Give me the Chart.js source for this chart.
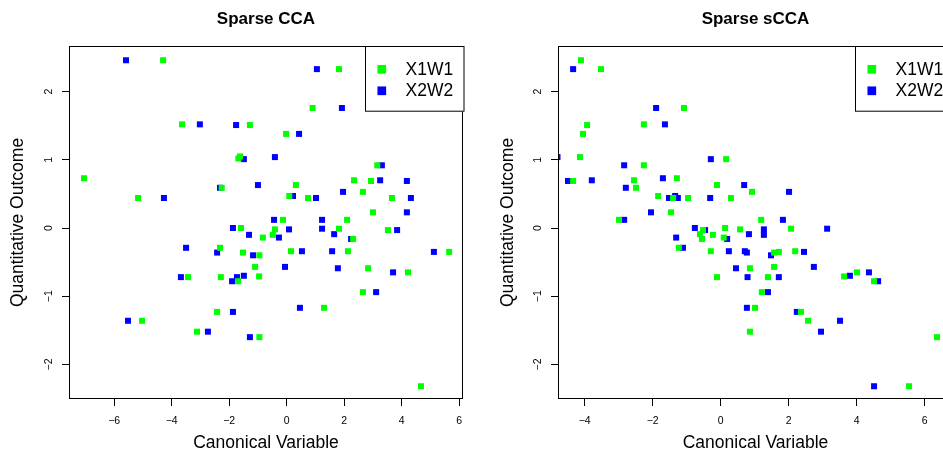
<!DOCTYPE html>
<html>
<head>
<meta charset="utf-8">
<script src="https://cdn.jsdelivr.net/npm/chart.js"></script>
<style>
html,body{margin:0;padding:0;background:#fff;overflow:hidden;width:943px;height:455px}
#wrap{position:relative;width:943px;height:455px;overflow:hidden;background:#fff}
canvas{position:absolute;top:0}
</style>
</head>
<body>
<div id="wrap">
<canvas id="c1" width="490" height="455" style="left:0"></canvas>
<canvas id="c2" width="490" height="455" style="left:490px"></canvas>
</div>
<script>
// ---------- data ----------
const titles = ['Sparse CCA', 'Sparse sCCA'];
const seriesNames = ['X1W1', 'X2W2'];
const xAxisLabel = 'Canonical Variable';
const yAxisLabel = 'Quantitative Outcome';

const ccaXTicks = [-6, -4, -2, 0, 2, 4, 6];
const ccaXTickLabels = ['\u22126', '\u22124', '\u22122', '0', '2', '4', '6'];
const sccaXTicks = [-4, -2, 0, 2, 4, 6];
const sccaXTickLabels = ['\u22124', '\u22122', '0', '2', '4', '6'];
const yTicks = [-2, -1, 0, 1, 2];
const yTickLabels = ['\u22122', '\u22121', '0', '1', '2'];

// Sparse CCA – X1W1 (green)
const ccaX1W1x = [-7.05,-4.30,-3.64,-1.28,-1.62,-1.68,-2.26,-5.17,-1.59,1.82,0.90,-0.02,3.15,0.32,2.34,2.93,0.09,0.74,2.65,3.66,3.00,-0.13,2.10,-0.41,1.82,3.52,-0.83,-0.48,2.31,-0.95,0.15,2.13,5.65,2.83,4.22,-0.96,2.65,1.30,-0.95,4.67,-2.32,-1.52,-1.10,-3.43,-2.29,-1.69,-2.42,-5.03,-3.12];
const ccaX1W1y = [0.73,2.46,1.52,1.51,1.05,1.02,0.59,0.44,0.00,2.33,1.76,1.38,0.92,0.63,0.70,0.69,0.47,0.44,0.53,0.44,0.23,0.12,0.12,-0.02,-0.01,-0.03,-0.14,-0.10,-0.16,-0.40,-0.34,-0.34,-0.35,-0.59,-0.65,-0.71,-0.94,-1.17,-1.60,-2.32,-0.29,-0.36,-0.57,-0.72,-0.72,-0.78,-1.23,-1.36,-1.52];
// Sparse CCA – X2W2 (blue)
const ccaX2W2x = [-5.59,-3.02,-1.76,-1.49,-2.32,-1.00,-4.27,-1.87,1.05,1.92,0.43,-0.41,3.31,3.25,4.18,0.22,1.02,1.96,4.32,4.18,-0.44,1.23,0.08,1.23,3.84,-0.27,1.65,2.24,0.53,1.58,5.12,-0.06,1.78,3.70,3.11,0.46,-1.31,-3.50,-2.42,-1.17,-3.68,-1.73,-1.90,-1.49,-1.87,-5.52,-2.74,-1.28];
const ccaX2W2y = [2.46,1.52,1.51,1.01,0.59,0.63,0.44,0.00,2.33,1.76,1.38,1.04,0.92,0.70,0.69,0.47,0.44,0.53,0.44,0.23,0.12,0.12,-0.02,-0.01,-0.03,-0.14,-0.09,-0.16,-0.34,-0.34,-0.35,-0.57,-0.59,-0.65,-0.94,-1.17,-0.10,-0.29,-0.36,-0.40,-0.72,-0.72,-0.78,-0.70,-1.23,-1.36,-1.52,-1.60];

// Sparse sCCA – X1W1 (green)
const sccaX1W1x = [-4.11,-3.52,-1.08,-3.93,-2.26,-4.05,-4.14,0.16,-2.26,-4.34,-2.55,-1.29,-2.49,-0.11,-1.84,-1.40,-0.96,0.30,0.92,-1.46,-2.99,1.19,-0.52,0.13,0.57,2.07,-0.61,-0.55,-0.23,0.09,-1.23,-0.29,0.86,-0.11,0.86,1.57,1.71,2.19,1.57,1.39,3.63,4.01,4.51,1.21,1.01,2.36,2.57,6.36,5.54];
const sccaX1W1y = [2.46,2.33,1.76,1.51,1.52,1.38,1.04,1.01,0.92,0.69,0.70,0.73,0.59,0.63,0.47,0.44,0.44,0.44,0.53,0.23,0.12,0.12,-0.03,0.00,-0.02,-0.01,-0.09,-0.16,-0.10,-0.14,-0.29,-0.34,-0.59,-0.72,-1.52,-0.36,-0.35,-0.34,-0.57,-0.72,-0.71,-0.65,-0.78,-0.94,-1.17,-1.23,-1.36,-1.60,-2.32];
// Sparse sCCA – X2W2 (blue)
const sccaX2W2x = [-4.34,-1.90,-1.64,-4.80,-0.29,-2.84,-4.49,-3.79,-1.70,-2.79,0.69,-1.52,-1.34,-1.26,-0.31,2.01,-2.05,-2.84,1.83,-0.76,-0.46,1.27,3.13,0.83,-1.31,0.19,-1.11,0.24,0.71,0.77,0.45,0.79,0.77,1.48,2.45,2.74,1.71,3.80,4.36,4.63,1.39,2.24,3.51,2.95,4.51,1.27];
const sccaX2W2y = [2.33,1.76,1.52,1.04,1.01,0.92,0.69,0.70,0.73,0.59,0.63,0.44,0.47,0.44,0.44,0.53,0.23,0.12,0.12,0.00,-0.03,-0.02,-0.01,-0.09,-0.14,-0.16,-0.29,-0.34,-0.34,-0.36,-0.59,-0.72,-1.17,-0.40,-0.35,-0.57,-0.72,-0.70,-0.65,-0.78,-0.94,-1.23,-1.36,-1.52,-2.32,-0.10];

const seriesColors = ['#00FF00', '#0000FF'];

// ---------- chart building ----------
const FONT = 'Liberation Sans';
const LABEL_SIZE = 17.5;
const TICK_SIZE = 10.5;
function pts(xs, ys) { return xs.map((x, i) => ({ x: x, y: ys[i] })); }

const framePlugin = {
  id: 'rframe',
  afterDraw(chart) {
    const ctx = chart.ctx, a = chart.chartArea, ys = chart.scales.y;
    ctx.save();
    ctx.strokeStyle = '#000';
    ctx.lineWidth = 1;
    ctx.strokeRect(a.left + 0.5, a.top + 0.5, a.right - a.left - 1, a.bottom - a.top - 1);
    // rotated y tick labels (R style, parallel to the axis)
    ctx.fillStyle = '#000';
    ctx.font = TICK_SIZE + 'px "' + FONT + '"';
    ctx.textAlign = 'center';
    ctx.textBaseline = 'middle';
    yTicks.forEach((v, i) => {
      const py = ys.getPixelForValue(v);
      ctx.save();
      ctx.translate(a.left - 19.7, py);
      ctx.rotate(-Math.PI / 2);
      ctx.fillText(yTickLabels[i], 0, 0);
      ctx.restore();
    });
    // legend box (top right, inside plot)
    const lw = 98.5, lh = 65.7;
    const lx = Math.round(a.right - lw), ly = a.top;
    ctx.fillStyle = '#fff';
    ctx.fillRect(lx, ly, lw, lh);
    ctx.strokeRect(lx + 0.5, ly + 0.5, lw, lh - 1);
    chart.data.datasets.forEach((ds, i) => {
      const cy = ly + 23.3 + i * 21.5;
      ctx.fillStyle = ds.backgroundColor;
      ctx.fillRect(lx + 16.8 - 4.35, cy - 4.35, 8.7, 8.7);
      ctx.fillStyle = '#000';
      ctx.font = LABEL_SIZE + 'px "' + FONT + '"';
      ctx.textAlign = 'left';
      ctx.textBaseline = 'middle';
      ctx.fillText(ds.label, lx + 40.5, cy + 0.6);
    });
    ctx.restore();
  }
};

function makeChart(id, title, gx, gy, bx, by, xMin, xMax, xTicks, xTickLabels, areaLeft) {
  const ds = (label, data, color) => ({
    label: label, data: data,
    backgroundColor: color, borderColor: color,
    pointStyle: 'rect', pointRadius: 4.25, pointHoverRadius: 4.25,
    pointBorderWidth: 0, clip: 0
  });
  return new Chart(document.getElementById(id), {
    type: 'scatter',
    data: {
      datasets: [
        ds(seriesNames[0], pts(gx, gy), seriesColors[0]),
        ds(seriesNames[1], pts(bx, by), seriesColors[1])
      ]
    },
    options: {
      responsive: false,
      animation: false,
      events: [],
      layout: { autoPadding: false, padding: { left: 0, top: 0, right: 27, bottom: 0 } },
      plugins: {
        legend: { display: false },
        tooltip: { enabled: false },
        title: {
          display: true, text: title, fullSize: false, color: '#000',
          font: { family: FONT, size: 17, weight: 'bold' },
          padding: { top: 9.3, bottom: 16.3 }
        }
      },
      scales: {
        x: {
          type: 'linear', min: xMin, max: xMax,
          afterBuildTicks: s => { s.ticks = xTicks.map(v => ({ value: v })); },
          afterFit: s => { s.height = 56; },
          border: { display: false },
          grid: { drawOnChartArea: false, drawTicks: true, tickLength: 7, color: '#000', lineWidth: 1 },
          ticks: {
            color: '#000', font: { family: FONT, size: TICK_SIZE }, padding: 8.5,
            maxRotation: 0, minRotation: 0, autoSkip: false,
            callback: (v, i) => xTickLabels[i]
          },
          title: {
            display: true, text: xAxisLabel, color: '#000',
            font: { family: FONT, size: LABEL_SIZE }, padding: { top: 0, bottom: 1.5 }
          }
        },
        y: {
          type: 'linear', min: -2.507, max: 2.669,
          afterBuildTicks: s => { s.ticks = yTicks.map(v => ({ value: v })); },
          afterFit: s => { s.width = areaLeft; },
          border: { display: false },
          grid: { drawOnChartArea: false, drawTicks: true, tickLength: 7, color: '#000', lineWidth: 1 },
          ticks: { display: false },
          title: {
            display: true, text: yAxisLabel, color: '#000',
            font: { family: FONT, size: LABEL_SIZE }, padding: { top: 7.9, bottom: 0 }
          }
        }
      }
    },
    plugins: [framePlugin]
  });
}

makeChart('c1', titles[0], ccaX1W1x, ccaX1W1y, ccaX2W2x, ccaX2W2y, -7.572, 6.132, ccaXTicks, ccaXTickLabels, 69);
makeChart('c2', titles[1], sccaX1W1x, sccaX1W1y, sccaX2W2x, sccaX2W2y, -4.785, 6.832, sccaXTicks, sccaXTickLabels, 68);
</script>
</body>
</html>
